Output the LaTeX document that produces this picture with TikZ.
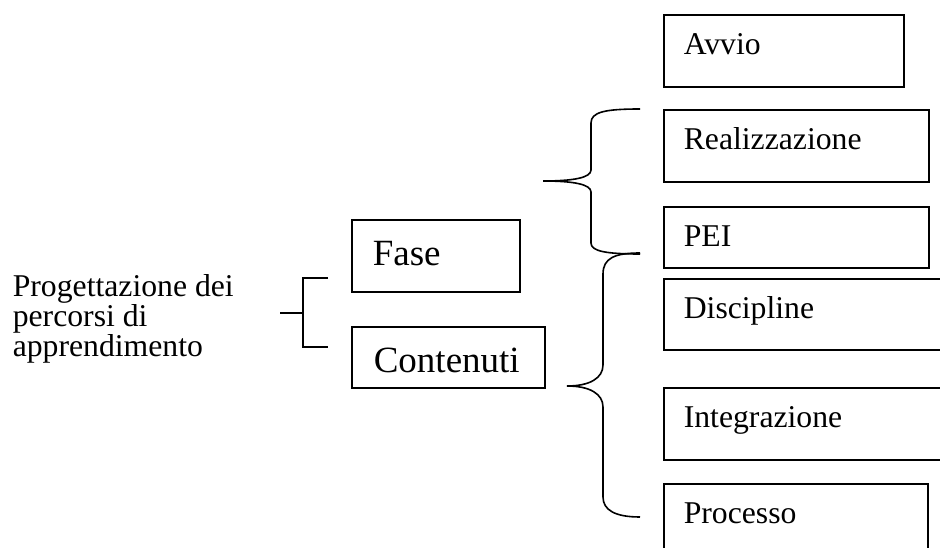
\documentclass[tikz,border=0pt]{standalone}
\usepackage{fontspec}
\setmainfont{Liberation Serif}
\begin{document}
\begin{tikzpicture}[x=1pt,y=-1pt,line width=1.6pt,
  sm/.style={font=\fontsize{31.7}{32}\selectfont},
  bg/.style={font=\fontsize{37}{40}\selectfont},
  rbox/.style={draw,line width=1.6pt,anchor=north west,inner sep=0pt,align=left},
  brace/.style={line width=1.6pt}]
\clip (0,0) rectangle (940,548);
% left title
\node[font=\fontsize{31.7}{30}\selectfont,anchor=north west,align=left,inner sep=0pt] (title) at (12,273.5)
  {Progettazione dei\\percorsi di\\apprendimento};
% middle boxes
\node[rbox,bg,text width=168pt,text height=46pt,text depth=26pt] (fase) at (351,219) {\hspace*{21pt}Fase};
\node[rbox,bg,text width=193pt,text height=46pt,text depth=15pt] (cont) at (351,326) {\hspace*{22pt}Contenuti};
% right boxes
\node[rbox,sm,text width=240pt,text height=40pt,text depth=32pt] (avvio) at (663,14) {\hspace*{20pt}Avvio};
\node[rbox,sm,text width=265pt,text height=40pt,text depth=32pt] (real) at (663,109) {\hspace*{20pt}Realizzazione};
\node[rbox,sm,text width=265pt,text height=40pt,text depth=21pt] (pei) at (663,206) {\hspace*{20pt}PEI};
\node[rbox,sm,text width=290pt,text height=40pt,text depth=31pt] (disc) at (663,278) {\hspace*{20pt}Discipline};
\node[rbox,sm,text width=290pt,text height=40pt,text depth=32pt] (integ) at (663,387) {\hspace*{20pt}Integrazione};
\node[rbox,sm,text width=264pt,text height=40pt,text depth=40pt] (proc) at (663,483) {\hspace*{20pt}Processo};
% left bracket
\coordinate (bt) at (328,278);
\coordinate (bb) at (328,347);
\coordinate (bm) at (280,313);
\draw[brace] (bt) -- (303,278) -- (303,347) -- (bb);
\draw[brace] (bm) -- (303,313);
% upper curly brace
\draw[brace] (640,109) .. controls (605,109) and (591,112) .. (591,123)
  -- (591,170) .. controls (591,178) and (572,181) .. (543,181)
  .. controls (572,181) and (591,184) .. (591,192)
  -- (591,243) .. controls (591,251) and (605,254) .. (640,254);
% lower curly brace
\draw[brace] (640,253) .. controls (615,253) and (603,258) .. (603,274)
  -- (603,365) .. controls (603,378) and (590,386) .. (567,386)
  .. controls (590,386) and (603,394) .. (603,407)
  -- (603,497) .. controls (603,510) and (615,517) .. (640,517);
\end{tikzpicture}
\end{document}
